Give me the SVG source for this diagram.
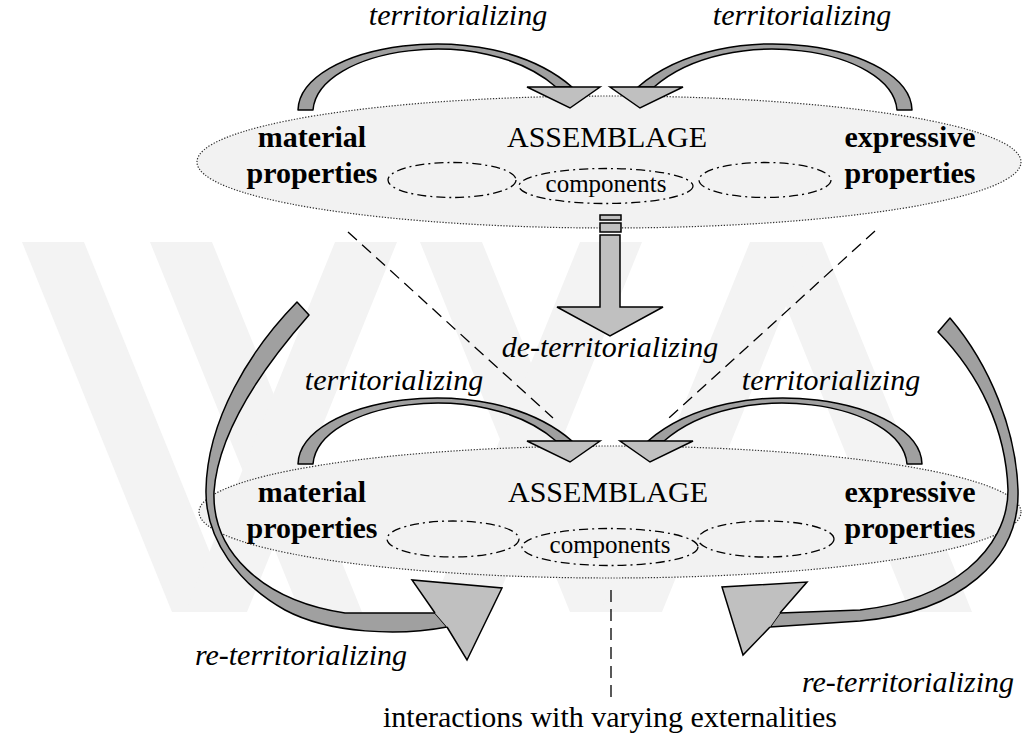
<svg xmlns="http://www.w3.org/2000/svg" xmlns:xlink="http://www.w3.org/1999/xlink" width="1022" height="740" viewBox="0 0 1022 740">
<style>
.t{font-family:"Liberation Serif","Times New Roman",serif;fill:#000}
.it{font-style:italic;font-size:30px}
.b{font-weight:bold;font-size:30px}
.r{font-size:30px}
.c{font-size:25px}
.wm{fill:#f3f3f3;stroke:none}
.big{fill:#f2f2f2;stroke:#333;stroke-width:1.2;stroke-dasharray:1.3 1.6}
.sm{fill:none;stroke:#000;stroke-width:1.3;stroke-dasharray:9 4 2 4}
.band{fill:#a0a0a0;stroke:#000;stroke-width:1.5;stroke-linejoin:round}
.head{fill:#c0c0c0;stroke:#000;stroke-width:1.5;stroke-linejoin:miter}
.dash{fill:none;stroke:#000;stroke-width:1.3;stroke-dasharray:12 7}
</style>
<defs>
<g id="terr">
<path class="band" d="M298,110 C300,45 485,12 572,87 L556,87 C482,22 318,48 313,110 Z"/>
<path class="head" d="M527,87 L600,87 L570,108 Z"/>
</g>
</defs>
<rect width="1022" height="740" fill="#fff"/>

<g id="watermark">
<polygon class="wm" points="22,242 84,242 234,612 172,612"/>
<polygon class="wm" points="150,242 212,242 362,612 300,612"/>
<polygon class="wm" points="420,242 482,242 632,612 570,612"/>
<polygon class="wm" points="760,242 822,242 972,612 910,612"/>
<polygon class="wm" points="185,612 247,612 397,242 335,242"/>
<polygon class="wm" points="430,612 492,612 642,242 580,242"/>
<polygon class="wm" points="600,612 662,612 812,242 750,242"/>
</g>

<g id="assemblage-top">
<ellipse class="big" cx="609" cy="162" rx="412" ry="66"/>
<ellipse class="sm" cx="452" cy="180" rx="64" ry="17.5"/>
<ellipse class="sm" cx="606" cy="186" rx="87" ry="17.5"/>
<ellipse class="sm" cx="765" cy="180" rx="66" ry="17.5"/>
<text class="t b" x="312" y="147" text-anchor="middle">material</text>
<text class="t b" x="312" y="183" text-anchor="middle">properties</text>
<text class="t r" x="607" y="147" text-anchor="middle">ASSEMBLAGE</text>
<text class="t c" x="606" y="192" text-anchor="middle">components</text>
<text class="t b" x="910" y="147" text-anchor="middle">expressive</text>
<text class="t b" x="910" y="183" text-anchor="middle">properties</text>
</g>

<g id="assemblage-bottom">
<ellipse class="big" cx="610" cy="512" rx="411" ry="66"/>
<ellipse class="sm" cx="453" cy="539" rx="66" ry="18"/>
<ellipse class="sm" cx="610" cy="547" rx="88" ry="18.5"/>
<ellipse class="sm" cx="766" cy="539" rx="68" ry="18"/>
<text class="t b" x="312" y="502" text-anchor="middle">material</text>
<text class="t b" x="312" y="538" text-anchor="middle">properties</text>
<text class="t r" x="608" y="502" text-anchor="middle">ASSEMBLAGE</text>
<text class="t c" x="610" y="553" text-anchor="middle">components</text>
<text class="t b" x="910" y="502" text-anchor="middle">expressive</text>
<text class="t b" x="910" y="538" text-anchor="middle">properties</text>
</g>

<g id="connectors">
<line class="dash" x1="348" y1="232" x2="553" y2="418"/>
<line class="dash" x1="875" y1="231" x2="669" y2="418"/>
<line class="dash" x1="611" y1="590" x2="611" y2="697"/>
<use xlink:href="#terr"/>
<use xlink:href="#terr" transform="translate(1210,0) scale(-1,1)"/>
<use xlink:href="#terr" transform="translate(0,354)"/>
<use xlink:href="#terr" transform="translate(1220,354) scale(-1,1)"/>
<g id="de-territorializing-arrow">
<rect class="head" x="600" y="215" width="21" height="5"/>
<rect class="head" x="600" y="223" width="21" height="9"/>
<path class="head" d="M600,235 L620,235 L620,307 L663,307 L610,336 L557,307 L600,307 Z"/>
</g>
<g id="re-left">
<path class="band" d="M297,302 L309,315 C265,365 218,430 214,492 C212,550 260,600 345,613 L435,613 L447,627 C400,636 330,634 285,610 C240,585 205,540 206,490 C207,420 250,350 297,302 Z"/>
<path class="head" d="M435,613 L412,580 L502,588 L467,660 L447,627"/>
</g>
<g id="re-right">
<path class="band" d="M950,318 C990,365 1016,430 1018,490 C1020,560 960,612 860,621 L770,627 L780,613 L860,610 C950,600 1008,550 1008,490 C1006,430 980,375 938,332 Z"/>
<path class="head" d="M770,627 L743,655 L722,587 L807,582 L780,613"/>
</g>
</g>

<g id="labels">
<text class="t it" x="458" y="25" text-anchor="middle">territorializing</text>
<text class="t it" x="802" y="25" text-anchor="middle">territorializing</text>
<text class="t it" x="610" y="357" text-anchor="middle">de-territorializing</text>
<text class="t it" x="394" y="390" text-anchor="middle">territorializing</text>
<text class="t it" x="831" y="390" text-anchor="middle">territorializing</text>
<text class="t it" x="301" y="665" text-anchor="middle">re-territorializing</text>
<text class="t it" x="908" y="692" text-anchor="middle">re-territorializing</text>
<text class="t r" x="610" y="727" text-anchor="middle">interactions with varying externalities</text>
</g>
</svg>
